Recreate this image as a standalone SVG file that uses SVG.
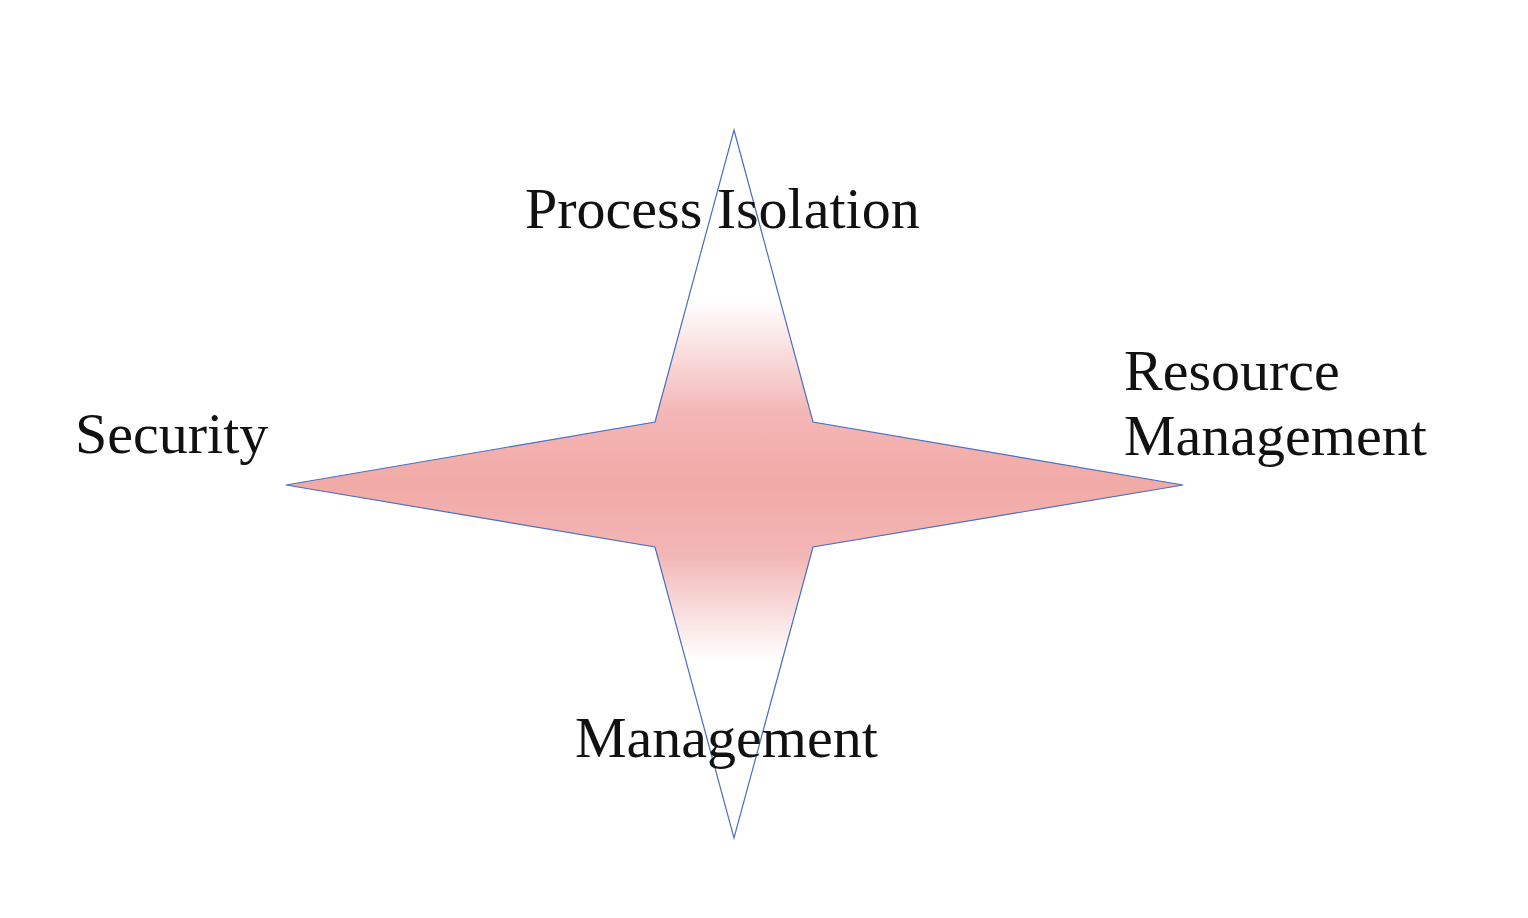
<svg xmlns="http://www.w3.org/2000/svg" width="1528" height="918" viewBox="0 0 1528 918">
<defs>
<linearGradient id="g" x1="0" y1="130" x2="0" y2="838" gradientUnits="userSpaceOnUse">
<stop offset="0.24" stop-color="#ffffff"/>
<stop offset="0.40" stop-color="#f3b6b6"/>
<stop offset="0.5" stop-color="#f1aaa6"/>
<stop offset="0.60" stop-color="#f3b6b6"/>
<stop offset="0.75" stop-color="#ffffff"/>
</linearGradient>
</defs>
<style>
text{font-family:"Liberation Serif","Times New Roman",serif;font-size:58px;fill:#111}
</style>
<rect width="1528" height="918" fill="#ffffff"/>
<g id="star">
<polygon points="734,130 813,422 1183,485 813,547 734,838 655,547 286,485 655,422" fill="url(#g)" stroke="#4a6fc0" stroke-width="1.2"/>
</g>
<g id="label-top"><text x="525" y="228">Process Isolation</text></g>
<g id="label-left"><text x="75" y="453">Security</text></g>
<g id="label-right"><text x="1124" y="390">Resource</text><text x="1124" y="455">Management</text></g>
<g id="label-bottom"><text x="575" y="757">Management</text></g>
<g id="connectors"/>
</svg>
